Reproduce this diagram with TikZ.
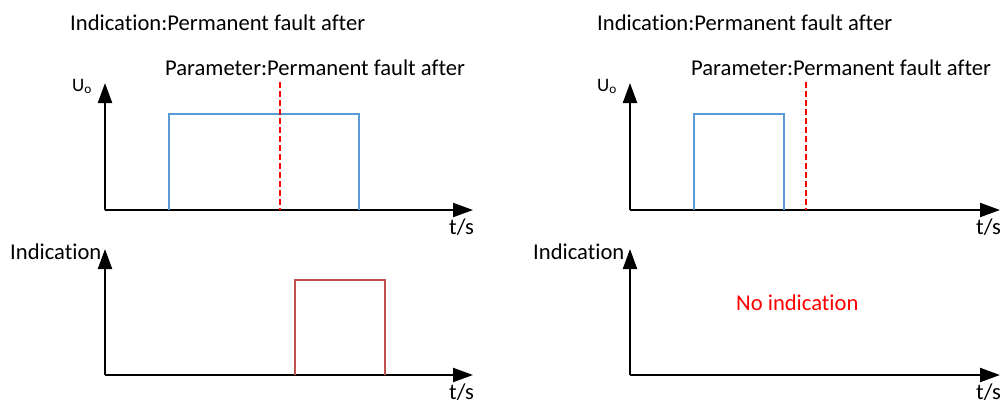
\documentclass[tikz,border=0pt]{standalone}
\usepackage{fontspec}
\setmainfont{Carlito}[Ligatures=NoCommon]
\usetikzlibrary{arrows.meta, positioning}

\begin{document}
\begin{tikzpicture}
[x=1pt, y=-1pt,
 axis/.style={-{Triangle[length=20pt,width=14pt]}, line width=2.2pt, black},
 upulse/.style={line width=2.8pt, draw=voltblue},
 ipulse/.style={line width=2.8pt, draw=indred},
 limit/.style={line width=1.8pt, draw=red, dash pattern=on 6pt off 3pt},
 lbl/.style={anchor=base west, inner sep=0pt, font=\fontsize{22.6}{27}\selectfont},
 small/.style={anchor=base west, inner sep=0pt, font=\fontsize{19}{22}\selectfont}]

\definecolor{voltblue}{RGB}{91,155,213}
\definecolor{indred}{RGB}{192,80,77}

\useasboundingbox (0,0) rectangle (1007,405);

% left: fault outlasts the parameter
\node[lbl] (ind1) at (70,30) {Indication:Permanent fault after};
\node[lbl] (par1) at (165,75) {Parameter:Permanent fault after};
\node[small] (u1) at (72,91) {U\textsubscript{o}};
\node[lbl] (ts1) at (449,234) {t/s};
\coordinate (o1) at (105,210);
\coordinate (y1) at (105,83);
\coordinate (x1) at (473,210);
\draw[axis] (o1) -- (y1);
\draw[axis] (o1) -- (x1);
\draw[upulse] (169,210) -- (169,114) -- (359,114) -- (359,210);
\coordinate (d1) at (280,82);
\draw[limit] (d1) -- (d1 |- o1);

\node[lbl] (ilab1) at (10,259) {Indication};
\node[lbl] (ts2) at (449,399) {t/s};
\coordinate (o2) at (105,375);
\coordinate (y2) at (105,249);
\coordinate (x2) at (473,375);
\draw[axis] (o2) -- (y2);
\draw[axis] (o2) -- (x2);
\draw[ipulse] (295,375) -- (295,280) -- (385,280) -- (385,375);

% right: fault gone before the parameter
\node[lbl] (ind2) at (597,30) {Indication:Permanent fault after};
\node[lbl] (par2) at (691,75) {Parameter:Permanent fault after};
\node[small] (u2) at (597,91) {U\textsubscript{o}};
\node[lbl] (ts3) at (976,234) {t/s};
\coordinate (o3) at (630,210);
\coordinate (y3) at (630,83);
\coordinate (x3) at (1000,210);
\draw[axis] (o3) -- (y3);
\draw[axis] (o3) -- (x3);
\draw[upulse] (694,210) -- (694,114) -- (784,114) -- (784,210);
\coordinate (d2) at (806,82);
\draw[limit] (d2) -- (d2 |- o3);

\node[lbl] (ilab2) at (533,259) {Indication};
\node[lbl] (ts4) at (976,399) {t/s};
\coordinate (o4) at (630,375);
\coordinate (y4) at (630,249);
\coordinate (x4) at (1000,375);
\draw[axis] (o4) -- (y4);
\draw[axis] (o4) -- (x4);
\node[lbl, text=red] (none) at (736,310) {No indication};
\end{tikzpicture}
\end{document}
